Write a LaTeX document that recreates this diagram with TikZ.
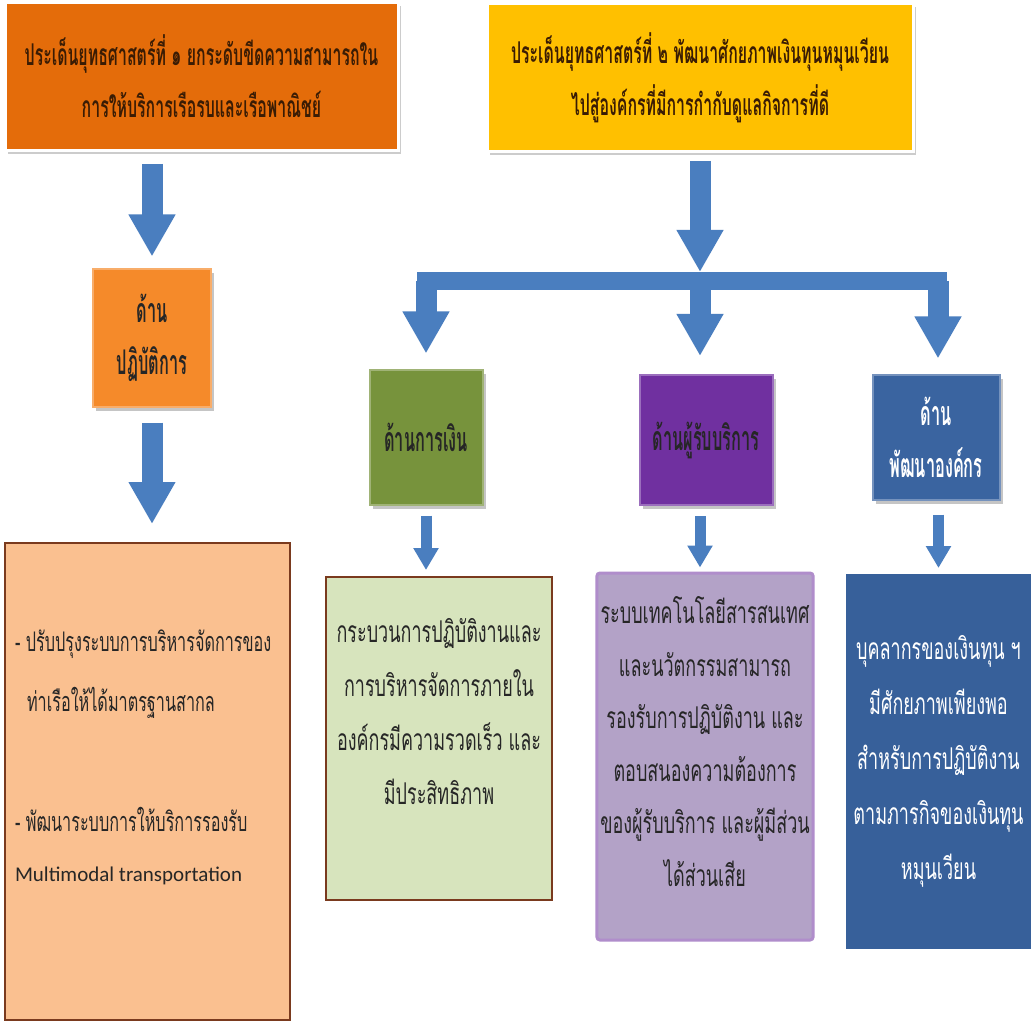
\documentclass[tikz,border=0pt]{standalone}
\usepackage{fontspec}
\usepackage{tikz}
\usetikzlibrary{positioning}
\usetikzlibrary{arrows.meta,shadows}

\newfontfamily\thaifont[Script=Thai,FakeStretch=0.6]{Loma}
\newfontfamily\thaititle[Script=Thai,FakeStretch=0.53]{Loma}
\newfontfamily\thaiside[Script=Thai,FakeStretch=0.48]{Loma}
\newfontfamily\latinfont{Carlito}

\definecolor{issueone}{HTML}{E46C0A}
\definecolor{issuetwo}{HTML}{FFC000}
\definecolor{opsfill}{HTML}{F58A2A}
\definecolor{moneyfill}{HTML}{77933C}
\definecolor{clientfill}{HTML}{7030A0}
\definecolor{orgfill}{HTML}{3A64A0}
\definecolor{opslight}{HTML}{FAC090}
\definecolor{moneylight}{HTML}{D7E4BD}
\definecolor{clientlight}{HTML}{B3A2C7}
\definecolor{orgdark}{HTML}{37609A}
\definecolor{arrowblue}{HTML}{4A7EBF}
\definecolor{boxbrown}{HTML}{7A3A1E}
\definecolor{textbrown}{HTML}{3A1C04}

\begin{document}
\begin{tikzpicture}[
        x = 1pt,
        y = -1pt,
        issue/.style = {
            draw=white,
            line width=3pt,
            minimum width=#1,
            minimum height=148pt,
            align=center,
            text=textbrown,
            font=\thaititle\bfseries\fontsize{30}{52}\selectfont,
            drop shadow={opacity=0.4, shadow xshift=3pt, shadow yshift=-4pt}
        },
        side/.style = {
            draw=#1!70!white,
            fill=#1,
            line width=2pt,
            minimum width=120pt,
            minimum height=132pt,
            align=center,
            text=black!85,
            font=\thaiside\bfseries\fontsize{34}{52}\selectfont,
            drop shadow={opacity=0.45, shadow xshift=3pt, shadow yshift=-4pt}
        },
        detail/.style = {
            draw=boxbrown,
            line width=2pt,
            align=center,
            text=black!85,
            font=\thaifont\fontsize{30}{54}\selectfont
        },
        bigarrow/.style = {
            draw=arrowblue,
            line width=21pt,
            -{Triangle[width=44pt, length=42pt]}
        },
        smallarrow/.style = {
            draw=arrowblue,
            line width=11pt,
            -{Triangle[width=24pt, length=22pt]}
        },
        bus/.style = {
            draw=arrowblue,
            line width=18pt,
            line cap=rect
        }
    ]
    \useasboundingbox (0,0) rectangle (1036,1024);
    \fill[white] (0,0) rectangle (1036,1024);

    % strategic issues
    \node[issue=393pt, fill=issueone] (s1) at (201.5,76.5)
        {ประเด็นยุทธศาสตร์ที่ ๑ ยกระดับขีดความสามารถใน\\การให้บริการเรือรบและเรือพาณิชย์};
    \node[issue=426pt, fill=issuetwo] (s2) at (700,77.5)
        {ประเด็นยุทธศาสตร์ที่ ๒ พัฒนาศักยภาพเงินทุนหมุนเวียน\\ไปสู่องค์กรที่มีการกำกับดูแลกิจการที่ดี};

    % perspectives
    \node[side=opsfill, minimum width=118pt, minimum height=137pt] (ops) at (152,338) {ด้าน\\ปฏิบัติการ};
    \node[side=moneyfill, minimum width=113pt, minimum height=135pt] (money) at (426,437) {ด้านการเงิน};
    \node[side=clientfill, minimum width=133pt, minimum height=130pt] (client) at (706,440) {ด้านผู้รับบริการ};
    \node[side=orgfill, minimum width=127pt, minimum height=125pt, text=white] (org) at (936,437) {ด้าน\\พัฒนาองค์กร};

    % goals
    \node[detail, fill=opslight, minimum width=285pt, minimum height=477pt,
        font=\thaifont\fontsize{27}{60}\selectfont,
        text width=265pt, align=left] (opsD) at (147.5,781.5)
        {\mbox{\spaceskip=0pt - ปรับปรุงระบบการบริหารจัดการของ}\\\mbox{\hspace*{12pt}ท่าเรือให้ได้มาตรฐานสากล}\\[60pt]\mbox{\spaceskip=0pt - พัฒนาระบบการให้บริการรองรับ}\\[-10pt]\mbox{\latinfont\fontsize{21}{50}\selectfont\spaceskip=0pt Multimodal transportation}\\[-8pt]\mbox{}};
    \node[detail, fill=moneylight, minimum width=226pt, minimum height=323pt] (moneyD) at (439,738.5)
        {กระบวนการปฏิบัติงานและ\\การบริหารจัดการภายใน\\องค์กรมีความรวดเร็ว และ\\มีประสิทธิภาพ\\\mbox{}};
    \node[detail, fill=clientlight, draw=clientfill!55!white, line width=3pt, rounded corners=3pt,
        font=\thaifont\fontsize{30}{52.5}\selectfont,
        minimum width=216pt, minimum height=367pt] (clientD) at (705,756.5)
        {ระบบเทคโนโลยีสารสนเทศ\\และนวัตกรรมสามารถ\\รองรับการปฏิบัติงาน และ\\ตอบสนองความต้องการ\\ของผู้รับบริการ และผู้มีส่วน\\ได้ส่วนเสีย\\[-22pt]\mbox{}};
    \node[detail, fill=orgdark, draw=orgdark, text=white,
        font=\thaifont\fontsize{30}{55}\selectfont,
        minimum width=183pt, minimum height=373pt] (orgD) at (938.5,761.5)
        {บุคลากรของเงินทุน ฯ\\มีศักยภาพเพียงพอ\\สำหรับการปฏิบัติงาน\\ตามภารกิจของเงินทุน\\หมุนเวียน};

    % branching bar
    \coordinate (busA) at (426,281);
    \coordinate (busM) at (700,281);
    \coordinate (busC) at (938,281);

    \draw[bigarrow, shorten <=12pt, shorten >=12pt] (ops.north |- s1.south) -- (ops.north);
    \draw[bigarrow, shorten <=15pt, shorten >=18pt] (ops.south) -- (ops.south |- opsD.north);
    \draw[bigarrow, shorten <=8pt, shorten >=9pt] (busM |- s2.south) -- (busM);
    \draw[bus] (busA) -- (busC);
    \draw[bigarrow] (busA) -- ([yshift=15pt]money.north);
    \draw[bigarrow] (busM) -- ([yshift=18pt]busM |- client.north);
    \draw[bigarrow] (busC) -- ([yshift=15pt]busC |- org.north);

    \draw[smallarrow, shorten <=10pt, shorten >=6pt] (money.south) -- (money.south |- moneyD.north);
    \draw[smallarrow, shorten <=10pt, shorten >=4pt] (client.south -| busM) -- (busM |- clientD.north);
    \draw[smallarrow, shorten <=14pt, shorten >=6pt] (org.south -| orgD.north) -- (orgD.north);
\end{tikzpicture}
\end{document}
